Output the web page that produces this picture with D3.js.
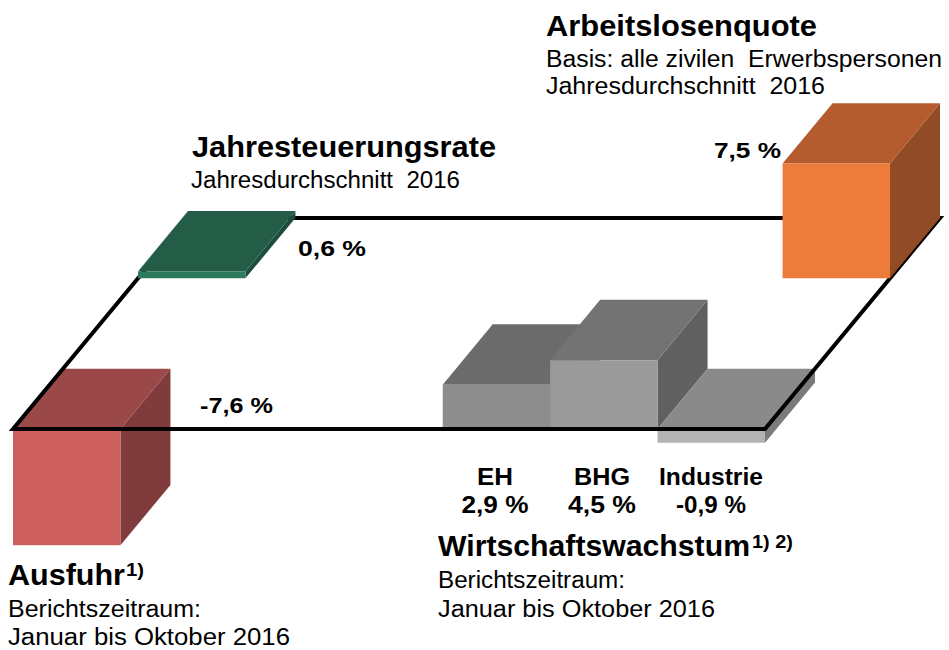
<!DOCTYPE html>
<html><head><meta charset="utf-8">
<script src="https://cdn.jsdelivr.net/npm/d3@7"></script>
<style>
html,body{margin:0;padding:0;background:#fff;}
svg{display:block;}
text{font-family:"Liberation Sans", Arial, sans-serif; fill:#000; white-space:pre;}
</style>
</head><body>
<svg id="chart" width="949" height="650"></svg>
<script>
// ---- data ----
const indicators = ["Ausfuhr", "Jahresteuerungsrate", "Arbeitslosenquote", "Wirtschaftswachstum"];
const sectors = ["EH", "BHG", "Industrie"];
const growthValues = [2.9, 4.5, -0.9];
const exportValues = [-7.6];
const inflationValues = [0.6];
const unemploymentValues = [7.5];
const exportNotes = ["1)", "Berichtszeitraum:", "Januar bis Oktober 2016"];
const growthNotes = ["1) 2)", "Berichtszeitraum:", "Januar bis Oktober 2016"];
const inflationNotes = ["Jahresdurchschnitt  2016"];
const unemploymentNotes = ["Basis: alle zivilen  Erwerbspersonen", "Jahresdurchschnitt  2016"];

// ---- formatting ----
const de = d3.formatLocale({decimal: ",", thousands: ".", grouping: [3], currency: ["", " €"], minus: "-"});
const fmt = v => de.format(".1f")(v) + " %";

// ---- scales / projection ----
const svg = d3.select("#chart");
svg.append("rect").attr("width", 949).attr("height", 650).attr("fill", "#fff");

const xs = d3.scaleLinear().domain([0, 7]).range([13, 765]);      // along front edge (slots)
const zs = d3.scaleLinear().domain([0, 3.5]).range([0, 1]);       // depth fraction
const depthVec = [175, -211];                                     // full depth in screen px
const hs = d3.scaleLinear().domain([0, 1]).range([0, 15.3]);      // height per % (growth, export, unemployment)
const hsInfl = d3.scaleLinear().domain([0, 1]).range([0, 11.5]);  // height per % (inflation axis)
const frontY = 429;

function proj(x, z, v, hscale) {
  const f = zs(z);
  return [xs(x) + f * depthVec[0], frontY + f * depthVec[1] - hscale(v)];
}

const poly = pts => "M" + pts.map(p => p.join(",")).join("L") + "Z";

function block(g, x0, x1, z0, z1, v, c, hscale) {
  const lo = Math.min(0, v), hi = Math.max(0, v);
  const P = (x, z, y) => proj(x, z, y, hscale);
  g.append("path").attr("d", poly([P(x1, z0, lo), P(x1, z1, lo), P(x1, z1, hi), P(x1, z0, hi)])).attr("fill", c.side);
  g.append("path").attr("d", poly([P(x0, z0, hi), P(x1, z0, hi), P(x1, z1, hi), P(x0, z1, hi)])).attr("fill", c.top);
  g.append("path").attr("d", poly([P(x0, z0, lo), P(x1, z0, lo), P(x1, z0, hi), P(x0, z0, hi)])).attr("fill", c.front);
}

const colors = {
  Ausfuhr: {front: "#cd5f5f", top: "#9b4848", side: "#803c3c"},
  Jahresteuerungsrate: {front: "#2e7b5c", top: "#235d47", side: "#1d4d3b"},
  Arbeitslosenquote: {front: "#ed7b3a", top: "#b45c2d", side: "#914b26"},
  EH: {front: "#8d8d8d", top: "#6b6b6b", side: "#5e5e5e"},
  BHG: {front: "#9a9a9a", top: "#737373", side: "#606060"},
  Industrie: {front: "#b3b3b3", top: "#8a8a8a", side: "#7b7b7b"}
};

// front blocks
const gFront = svg.append("g");
block(gFront, 0, 1, 0, 1, exportValues[0], colors.Ausfuhr, hs);
sectors.forEach((s, i) => block(gFront, 4 + i, 5 + i, 0, 1, growthValues[i], colors[s], hs));

// plane outline
svg.append("path")
  .attr("d", poly([proj(0, 0, 0, hs), proj(7, 0, 0, hs), proj(7, 3.5, 0, hs), proj(0, 3.5, 0, hs)]))
  .attr("fill", "none").attr("stroke", "#000").attr("stroke-width", 4).attr("stroke-linejoin", "miter");

// back blocks
const gBack = svg.append("g");
block(gBack, 0, 1, 2.5, 3.5, inflationValues[0], colors.Jahresteuerungsrate, hsInfl);
block(gBack, 6, 7, 2.5, 3.5, unemploymentValues[0], colors.Arbeitslosenquote, hs);

// ---- text ----
function txt(x, y, s, size, weight, len, anchor) {
  const t = svg.append("text").attr("x", x).attr("y", y).text(s)
    .attr("font-size", size).attr("font-weight", weight || "normal")
    .attr("text-anchor", anchor || "start")
    .attr("xml:space", "preserve");
  if (len) t.attr("textLength", len).attr("lengthAdjust", "spacingAndGlyphs");
  return t;
}

// Arbeitslosenquote
txt(546, 36, indicators[2], 29, "bold", 271);
txt(546, 67, unemploymentNotes[0], 23, "normal", 396);
txt(546, 94, unemploymentNotes[1], 23, "normal", 279);
txt(714, 158, fmt(unemploymentValues[0]), 22, "bold", 67);

// Jahresteuerungsrate
txt(192, 157, indicators[1], 29, "bold", 304);
txt(191, 188, inflationNotes[0], 23, "normal", 269);
txt(298, 256, fmt(inflationValues[0]), 22, "bold", 68);

// Ausfuhr
txt(200, 413, fmt(exportValues[0]), 22, "bold", 73);
txt(8, 585, indicators[0], 29, "bold", 117);
txt(126, 576, exportNotes[0], 18, "bold", 18);
txt(8, 617, exportNotes[1], 23, "normal", 193);
txt(8, 645, exportNotes[2], 23, "normal", 282);

// Wirtschaftswachstum
const labelCenters = [495, 602, 711];
const nameLens = [36, 56, 104];
const valLens = [67, 68, 70];
sectors.forEach((s, i) => {
  txt(labelCenters[i], 485, s, 23, "bold", nameLens[i], "middle");
  txt(labelCenters[i], 513, fmt(growthValues[i]), 23, "bold", valLens[i], "middle");
});
txt(438, 556, indicators[3], 29, "bold", 312);
txt(752, 548, growthNotes[0], 18, "bold", 41);
txt(438, 588, growthNotes[1], 23, "normal", 187);
txt(438, 617, growthNotes[2], 23, "normal", 277);
</script>
</body></html>
